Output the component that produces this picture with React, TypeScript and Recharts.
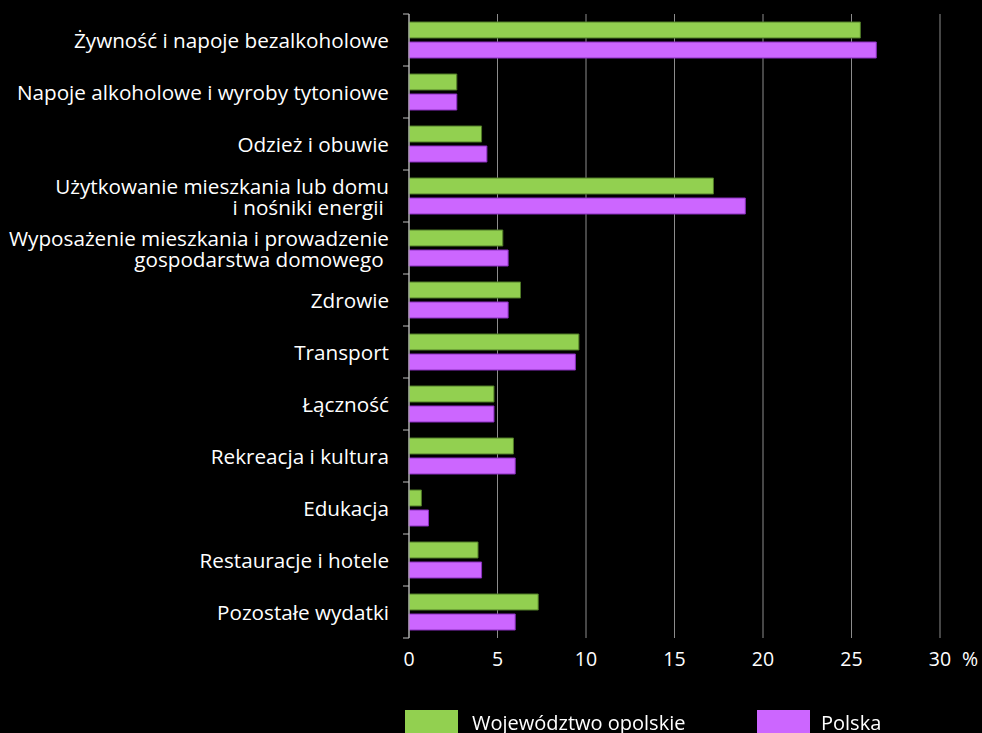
import { Bar, BarChart, CartesianGrid, XAxis, YAxis } from "recharts";

const categories = [
  "Żywność i napoje bezalkoholowe",
  "Napoje alkoholowe i wyroby tytoniowe",
  "Odzież i obuwie",
  "Użytkowanie mieszkania lub domu\ni nośniki energii ",
  "Wyposażenie mieszkania i prowadzenie\ngospodarstwa domowego ",
  "Zdrowie",
  "Transport",
  "Łączność",
  "Rekreacja i kultura",
  "Edukacja",
  "Restauracje i hotele",
  "Pozostałe wydatki",
];
const opolskie = [25.5, 2.7, 4.1, 17.2, 5.3, 6.3, 9.6, 4.8, 5.9, 0.7, 3.9, 7.3];
const polska = [26.4, 2.7, 4.4, 19.0, 5.6, 5.6, 9.4, 4.8, 6.0, 1.1, 4.1, 6.0];
const xTicks = [0, 5, 10, 15, 20, 25, 30];

const data = categories.map((name, i) => ({ name, opolskie: opolskie[i], polska: polska[i] }));

const W = 982;
const H = 733;
const TOP = 14;
const PLOT_BOTTOM = 638;
const AXIS_X = 409;
const BAND = (PLOT_BOTTOM - TOP) / categories.length;
const FONT = "'Open Sans', 'Noto Sans', sans-serif";

function CategoryTick(props: any) {
  const { x, y, payload, index } = props;
  const lines = String(payload.value).split("\n");
  const lh = 21;
  const first = y - ((lines.length - 1) * lh) / 2;
  return (
    <g>
      <text
        x={x}
        y={first}
        textAnchor="end"
        dominantBaseline="central"
        fill="#ffffff"
        fontSize={20.7}
        fontFamily={FONT}
        style={{ whiteSpace: "pre" }}
      >
        {lines.map((l, i) => (
          <tspan key={i} x={x} dy={i === 0 ? 0 : lh}>
            {l}
          </tspan>
        ))}
      </text>
      <line x1={AXIS_X - 6} x2={AXIS_X} y1={y - BAND / 2} y2={y - BAND / 2} stroke="#bfbfbf" />
      {index === categories.length - 1 && (
        <line x1={AXIS_X - 6} x2={AXIS_X} y1={y + BAND / 2} y2={y + BAND / 2} stroke="#bfbfbf" />
      )}
    </g>
  );
}

function PercentLabel(props: any) {
  const { viewBox } = props;
  return (
    <text
      x={viewBox.x + viewBox.width + 22}
      y={viewBox.y + 14}
      dy="0.71em"
      fill="#ffffff"
      fontSize={19.5}
      fontFamily={FONT}
    >
      %
    </text>
  );
}

export default function App() {
  return (
    <div style={{ position: "fixed", left: 0, top: 0, width: W, height: H, background: "#000", fontFamily: FONT }}>
      <BarChart
        width={W}
        height={H}
        data={data}
        layout="vertical"
        margin={{ top: TOP, right: 42, left: 0, bottom: H - PLOT_BOTTOM - 48 }}
        barSize={16}
        barGap={4}
      >
        <CartesianGrid horizontal={false} stroke="#8c8c8c" />
        <XAxis
          type="number"
          domain={[0, 30]}
          ticks={xTicks}
          axisLine={false}
          tickLine={false}
          height={48}
          tickSize={6}
          tickMargin={8}
          tick={{ fill: "#ffffff", fontSize: 19.5, fontFamily: FONT }}
          label={<PercentLabel />}
        />
        <YAxis
          type="category"
          dataKey="name"
          width={AXIS_X}
          axisLine={{ stroke: "#bfbfbf" }}
          tickLine={false}
          tickSize={6}
          tickMargin={14}
          interval={0}
          tick={<CategoryTick />}
        />
        <Bar dataKey="opolskie" fill="#92d050" stroke="#4f7a26" strokeWidth={1} isAnimationActive={false} />
        <Bar dataKey="polska" fill="#cc66ff" stroke="#8a2fbf" strokeWidth={1} isAnimationActive={false} />
      </BarChart>
      <div style={{ position: "absolute", top: 710, left: 405, display: "flex", alignItems: "flex-start", color: "#fff", fontSize: 20 }}>
        <div style={{ width: 53, height: 26, background: "#92d050" }} />
        <span style={{ marginLeft: 14, lineHeight: "26px" }}>Województwo opolskie</span>
      </div>
      <div style={{ position: "absolute", top: 710, left: 757, display: "flex", alignItems: "flex-start", color: "#fff", fontSize: 20 }}>
        <div style={{ width: 53, height: 26, background: "#cc66ff" }} />
        <span style={{ marginLeft: 11, lineHeight: "26px" }}>Polska</span>
      </div>
    </div>
  );
}
